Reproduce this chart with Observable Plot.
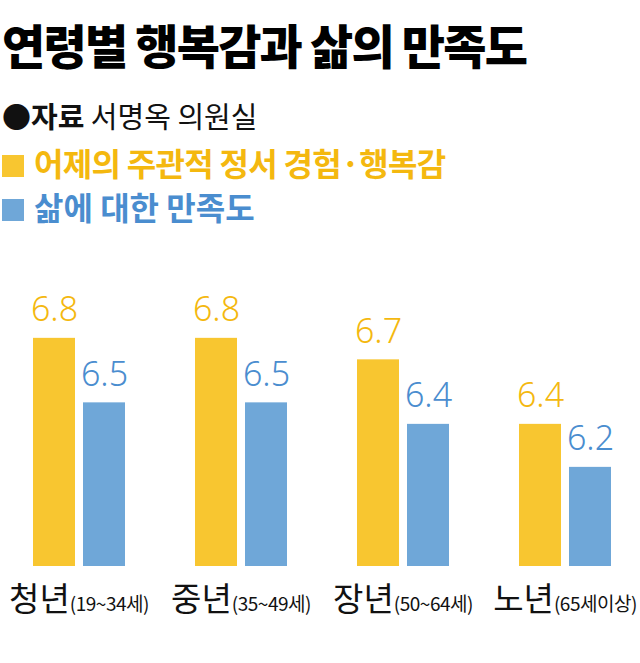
<!DOCTYPE html>
<html><head><meta charset="utf-8">
<script src="https://cdn.jsdelivr.net/npm/d3@7"></script>
<script src="https://cdn.jsdelivr.net/npm/@observablehq/plot@0.6"></script>
<style>
body{margin:0;background:#fff;width:640px;height:663px;overflow:hidden;font-family:"Noto Sans CJK KR","Noto Sans",sans-serif;}
#header{position:relative;height:240px;}
.t{position:absolute;left:2px;line-height:1;white-space:nowrap;}
.sw{display:inline-block;width:22px;height:22px;margin-right:10px;vertical-align:-1px;}
#chart svg{display:block;}
</style></head><body>
<div id="header">
  <div class="t" style="top:20px;font-size:47px;font-weight:900;letter-spacing:-1.8px;color:#000;">연령별 행복감과 삶의 만족도</div>
  <div class="t" style="top:101px;font-size:29px;color:#111;"><b>●자료</b> 서명옥 의원실</div>
  <div class="t" id="lg0" style="top:146px;font-size:32px;font-weight:700;letter-spacing:-0.7px;"></div>
  <div class="t" id="lg1" style="top:190px;font-size:32px;font-weight:700;"></div>
</div>
<div id="chart"></div>
<script>
const groups = ["청년(19~34세)", "중년(35~49세)", "장년(50~64세)", "노년(65세이상)"];
const series = ["어제의 주관적 정서 경험·행복감", "삶에 대한 만족도"];
const happiness = [6.8, 6.8, 6.7, 6.4];
const satisfaction = [6.5, 6.5, 6.4, 6.2];
const barColors = ["#F8C630", "#6FA7D8"];
const textColors = ["#F4B80F", "#4A8DCF"];

const data = groups.flatMap((g, i) => [
  {group: g, series: series[0], value: happiness[i]},
  {group: g, series: series[1], value: satisfaction[i]}
]);

// legend
series.forEach((s, i) => {
  const el = document.getElementById("lg" + i);
  el.style.color = textColors[i];
  const sw = document.createElement("span");
  sw.className = "sw";
  sw.style.background = barColors[i];
  el.appendChild(sw);
  el.appendChild(document.createTextNode(s));
});

const chart = Plot.plot({
  width: 640, height: 423,
  marginLeft: 31, marginRight: 28, marginTop: 40, marginBottom: 97,
  style: {fontFamily: "'Noto Sans CJK KR', sans-serif", background: "#fff"},
  fx: {domain: groups, paddingInner: 0.428, paddingOuter: 0, axis: null, label: null},
  x: {domain: series, paddingInner: 0.16, paddingOuter: 0, axis: null},
  y: {domain: [5.739, 7.069], axis: null},
  color: {domain: series, range: barColors},
  marks: [
    Plot.barY(data, {fx: "group", x: "series", y: "value", fill: "series", clip: true}),
    ...series.map((s, i) => Plot.text(data.filter(d => d.series === s), {
      fx: "group", x: "series", y: "value",
      text: d => d.value.toFixed(1),
      fill: textColors[i], lineAnchor: "bottom", dy: -17,
      fontSize: 34, fontWeight: 300, fontFamily: "'Noto Sans', sans-serif"
    })),
    Plot.text(groups, {fx: d => d, text: d => d, frameAnchor: "bottom", lineAnchor: "bottom", dy: 44, fontSize: 33, fill: "#111", className: "xlab"})
  ]
});
document.getElementById("chart").appendChild(chart);

d3.select(chart).selectAll("g.xlab text").each(function() {
  const s = this.textContent;
  const k = s.indexOf("(");
  const t = d3.select(this);
  t.text(null);
  t.append("tspan").attr("font-size", 33).text(s.slice(0, k));
  t.append("tspan").attr("font-size", 19).attr("letter-spacing", -0.5).text(s.slice(k));
});
</script>
</body></html>
